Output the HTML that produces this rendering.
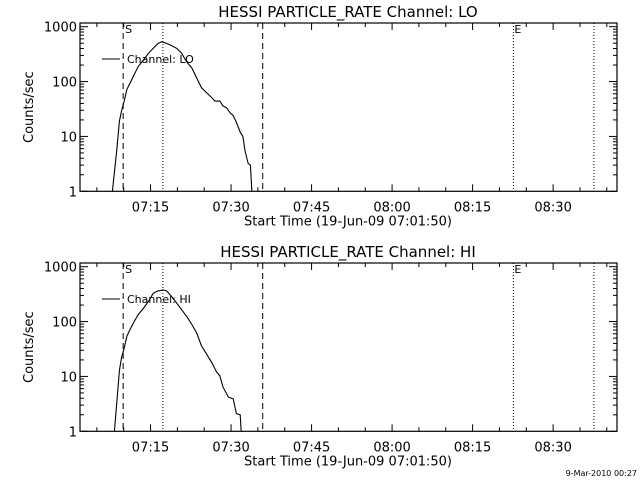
<!DOCTYPE html>
<html><head><meta charset="utf-8"><style>
body{margin:0;background:#fff}
svg{display:block;font-family:"DejaVu Sans","Liberation Sans",sans-serif}
</style></head><body>
<svg id="c" width="640" height="480"></svg>
<script>
const loTimes=[7.9,8.7,9.2,9.6,10.1,10.6,11.2,11.8,12.7,13.7,14.6,15.5,16.4,17.1,18.0,18.7,19.9,20.8,21.7,22.7,23.6,24.5,25.5,26.4,27.0,27.9,28.5,29.2,29.8,30.4,31.0,31.7,32.2,32.6,33.2,33.6,33.9];
const loValues=[1,5.5,19,29,44,72,94,125,188,249,327,403,496,532,496,464,403,327,231,176,116,77,62,51,44,44,36,33,27,24,18,12,10,5.5,3.2,3.0,0.9];
const hiTimes=[8.26,8.7,9.2,9.6,10.1,10.6,11.2,11.8,12.7,13.7,14.6,15.5,16.4,17.4,18.0,18.9,19.9,20.8,21.7,22.7,23.6,24.5,25.5,26.4,27.3,27.9,28.5,29.5,30.4,31.0,31.7,31.9];
const hiValues=[1,3.2,12.7,22,33,54,72,94,134,176,232,327,362,377,362,286,216,164,125,88,62,36,25,18,12,10.3,6.4,4.2,3.9,2.1,2.0,0.9];
const xTickLabels=["07:15","07:30","07:45","08:00","08:15","08:30"];
const xTickMinutes=[15,30,45,60,75,90];
const yTickValues=[1,10,100,1000];
const dashedLines=[9.9,35.9];
const dottedLines=[17.3,82.6,97.6];
const NS="http://www.w3.org/2000/svg";
const svg=document.getElementById('c');
const X0=80,X1=617,T0=1.86,T1=101.9;
function xs(m){return X0+(m-T0)/(T1-T0)*(X1-X0);}
function mk(t,a,p){const e=document.createElementNS(NS,t);for(const k in a)e.setAttribute(k,a[k]);(p||svg).appendChild(e);return e;}
function panel(top,bottom,times,vals,chan,id){
  const g=mk('g',{});
  
  
  const dec=(bottom-top-1.5)/3.04;
  const ys=v=>bottom-Math.log10(v)*dec;
  const t=mk('text',{x:348,y:top-6,'text-anchor':'middle','font-size':15},g);
  t.textContent='HESSI PARTICLE_RATE Channel: '+chan;
  
  
  const f=mk('rect',{x:X0,y:top,width:X1-X0,height:bottom-top,fill:'none',stroke:'#000','stroke-width':1.2},g);
  
  
  for(let m=5;m<T1;m+=5){const x=xs(m);const L=(m%15==0)?7:4;
    mk('line',{x1:x,x2:x,y1:bottom,y2:bottom-L,stroke:'#000'},g);
    mk('line',{x1:x,x2:x,y1:top,y2:top+L,stroke:'#000'},g);}
  xTickLabels.forEach((s,i)=>{const e=mk('text',{x:xs(xTickMinutes[i]),y:bottom+20,'text-anchor':'middle','font-size':13},g);e.textContent=s;
    
    });
  for(let d=0;d<4;d++){for(let k=1;k<10;k++){const v=Math.pow(10,d)*k;if(v>1100)break;const y=ys(v);const L=k==1?8:4;
    mk('line',{x1:X0,x2:X0+L,y1:y,y2:y,stroke:'#000'},g);mk('line',{x1:X1,x2:X1-L,y1:y,y2:y,stroke:'#000'},g);}}
  yTickValues.forEach(v=>{const e=mk('text',{x:X0-3,y:ys(v)+5,'text-anchor':'end','font-size':13},g);e.textContent=v;
    
    });
  const yl=mk('text',{transform:`translate(33,${(top+bottom)/2}) rotate(-90)`,'text-anchor':'middle','font-size':13},g);yl.textContent='Counts/sec';
  
  
  const xl=mk('text',{x:348,y:bottom+34,'text-anchor':'middle','font-size':13},g);xl.textContent='Start Time (19-Jun-09 07:01:50)';
  
  
  dashedLines.forEach(m=>{const l=mk('line',{x1:xs(m),x2:xs(m),y1:top,y2:bottom,stroke:'#000','stroke-dasharray':'6,4'},g);
    
    });
  dottedLines.forEach(m=>{const l=mk('line',{x1:xs(m),x2:xs(m),y1:top,y2:bottom,stroke:'#000','stroke-dasharray':'1,2'},g);
    
    });
  const s=mk('text',{x:xs(dashedLines[0])+2,y:top+10,'font-size':11},g);s.textContent='S';
  
  
  const e2=mk('text',{x:xs(dottedLines[1])+1,y:top+10,'font-size':11},g);e2.textContent='E';
  
  
  const cp=mk('clipPath',{id:'cl'+id},g);mk('rect',{x:X0,y:top,width:X1-X0,height:bottom-top},cp);
  const pts=times.map((m,i)=>xs(m).toFixed(1)+','+ys(vals[i]).toFixed(1)).join(' ');
  const pl=mk('polyline',{points:pts,fill:'none',stroke:'#000','stroke-width':1.1,'clip-path':`url(#cl${id})`},g);
  
  
  const ll=mk('line',{x1:102,x2:120,y1:top+36,y2:top+36,stroke:'#000'},g);
  
  
  const lt=mk('text',{x:127,y:top+40,'font-size':11},g);lt.textContent='Channel: '+chan;
  
  
}
panel(23,191.3,loTimes,loValues,'LO','lo');
panel(263,431.3,hiTimes,hiValues,'HI','hi');
const d=mk('text',{x:637,y:476,'text-anchor':'end','font-size':8});d.textContent='9-Mar-2010 00:27';


</script>
</body></html>
